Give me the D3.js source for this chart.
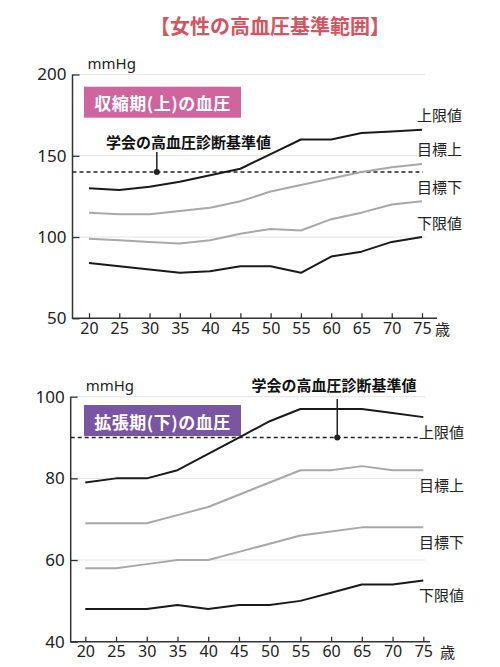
<!DOCTYPE html>
<html>
<head>
<meta charset="utf-8">
<script src="https://cdn.jsdelivr.net/npm/d3@7"></script>
<style>
  body { margin: 0; background: #fff; }
  text { font-family: "Noto Sans CJK JP", "Noto Sans", sans-serif; }
</style>
</head>
<body>
<svg id="chart" width="500" height="667"></svg>
<script>
// ages on the x axis
var ages = [20, 25, 30, 35, 40, 45, 50, 55, 60, 65, 70, 75];

// systolic (上)
var sysUpper  = [130, 129, 131, 134, 138, 142, 151, 160, 160, 164, 165, 166];
var sysTgtUp  = [115, 114, 114, 116, 118, 122, 128, 132, 136, 140, 143, 145];
var sysTgtLow = [99, 98, 97, 96, 98, 102, 105, 104, 111, 115, 120, 122];
var sysLower  = [84, 82, 80, 78, 79, 82, 82, 78, 88, 91, 97, 100];
var sysTicks  = [50, 100, 150, 200];
var sysLimit  = 140;

// diastolic (下)
var diaUpper  = [79, 80, 80, 82, 86, 90, 94, 97, 97, 97, 96, 95];
var diaTgtUp  = [69, 69, 69, 71, 73, 76, 79, 82, 82, 83, 82, 82];
var diaTgtLow = [58, 58, 59, 60, 60, 62, 64, 66, 67, 68, 68, 68];
var diaLower  = [48, 48, 48, 49, 48, 49, 49, 50, 52, 54, 54, 55];
var diaTicks  = [40, 60, 80, 100];
var diaLimit  = 90;

var seriesNames = ["上限値", "目標上", "目標下", "下限値"];
var seriesColors = ["#1a1a1a", "#a8a8a8", "#a8a8a8", "#1a1a1a"];

var svg = d3.select("#chart");

svg.append("text")
  .attr("x", 270).attr("y", 25)
  .attr("text-anchor", "middle")
  .attr("dominant-baseline", "central")
  .attr("font-size", 20).attr("font-weight", "bold")
  .attr("fill", "#d4545f")
  .text("【女性の高血圧基準範囲】");

function drawPanel(p) {
  var g = svg.append("g");
  var x = d3.scalePoint().domain(ages).range([p.x0, p.x1]);
  var y = d3.scaleLinear().domain([p.ticks[0], p.ticks[p.ticks.length - 1]]).range([p.yBottom, p.yTop]);

  // light grid
  g.selectAll(".grid").data(p.ticks.slice(1)).enter().append("line")
    .attr("x1", p.axisX).attr("x2", 425)
    .attr("y1", function(d){ return y(d); }).attr("y2", function(d){ return y(d); })
    .attr("stroke", "#e4e4e4").attr("stroke-width", 1);

  // y axis
  var ya = g.append("g").attr("transform", "translate(" + p.axisX + ",0)")
    .call(d3.axisLeft(y).tickValues(p.ticks).tickSize(-7).tickPadding(6));
  ya.select(".domain").remove();
  ya.selectAll(".tick line").attr("stroke", "#333").attr("stroke-width", 1.3);
  ya.selectAll("text").attr("font-size", 17).attr("fill", "#222")
    .style("font-family", "'Noto Sans', sans-serif");

  // x axis
  var xa = g.append("g").attr("transform", "translate(0," + p.yBottom + ")")
    .call(d3.axisBottom(x).tickSize(-5).tickPadding(4));
  xa.select(".domain").remove();
  xa.selectAll(".tick line").attr("stroke", "#333").attr("stroke-width", 1.3);
  xa.selectAll("text").attr("font-size", 16).attr("fill", "#222")
    .style("font-family", "'Noto Sans', sans-serif");

  // axis lines
  g.append("path")
    .attr("d", "M" + p.axisX + "," + y(p.ticks[p.ticks.length - 1]) + "V" + p.yBottom + "H" + p.axisEnd)
    .attr("fill", "none").attr("stroke", "#333").attr("stroke-width", 1.5);

  g.append("text").attr("x", p.ageX).attr("y", p.yBottom + 10)
    .attr("dominant-baseline", "central").attr("font-size", 15).attr("fill", "#222").text("歳");

  g.append("text").attr("x", p.axisX + 15).attr("y", y(p.ticks[p.ticks.length - 1]) - 12)
    .attr("dominant-baseline", "central").attr("font-size", 15).attr("fill", "#222")
    .style("font-family", "'Noto Sans', sans-serif").text("mmHg");

  // title box
  g.append("rect").attr("x", 84).attr("y", p.boxY).attr("width", 157).attr("height", 31)
    .attr("fill", p.boxColor);
  g.append("text").attr("x", 162.5).attr("y", p.boxY + 16)
    .attr("text-anchor", "middle").attr("dominant-baseline", "central")
    .attr("font-size", 17).attr("font-weight", "bold").attr("fill", "#fff")
    .attr("letter-spacing", 0.5)
    .text(p.boxText);

  // limit dashed line
  g.append("line").attr("x1", p.axisX).attr("x2", p.dashEnd)
    .attr("y1", y(p.limit)).attr("y2", y(p.limit))
    .attr("stroke", "#222").attr("stroke-width", 1.5).attr("stroke-dasharray", "4,3");

  // series
  var line = d3.line().x(function(d, i){ return x(ages[i]); }).y(function(d){ return y(d); });
  var order = [1, 2, 0, 3];
  order.forEach(function(k) {
    g.append("path").datum(p.series[k])
      .attr("d", line).attr("fill", "none")
      .attr("stroke", seriesColors[k]).attr("stroke-width", 2)
      .attr("stroke-linejoin", "round");
  });

  p.series.forEach(function(s, k) {
    g.append("text").attr("x", p.labelX).attr("y", y(s[s.length - 1]) + p.labelOffset)
      .attr("dominant-baseline", "central").attr("font-size", 15).attr("fill", "#222")
      .text(seriesNames[k]);
  });

  // annotation
  var ax = p.x0 + (p.annoAge - ages[0]) / (ages[ages.length - 1] - ages[0]) * (p.x1 - p.x0);
  g.append("line").attr("x1", ax).attr("x2", ax)
    .attr("y1", p.annoLineTop).attr("y2", y(p.limit))
    .attr("stroke", "#222").attr("stroke-width", 1.5);
  g.append("circle").attr("cx", ax).attr("cy", y(p.limit)).attr("r", 3).attr("fill", "#222");
  g.append("text").attr("x", p.annoTextX).attr("y", p.annoTextY)
    .attr("text-anchor", "middle").attr("dominant-baseline", "central")
    .attr("font-size", 15).attr("font-weight", "bold").attr("fill", "#111")
    .text("学会の高血圧診断基準値");
}

drawPanel({
  x0: 89, x1: 422, axisX: 72.5, axisEnd: 437, yTop: 74.5, yBottom: 318.3,
  ticks: sysTicks, limit: sysLimit, dashEnd: 423, ageX: 435,
  series: [sysUpper, sysTgtUp, sysTgtLow, sysLower],
  labelX: 417, labelOffset: -15,
  boxY: 86.7, boxColor: "#d0649f", boxText: "収縮期(上)の血圧",
  annoAge: 31.2, annoLineTop: 152, annoTextX: 188.5, annoTextY: 141.5
});

drawPanel({
  x0: 85.3, x1: 423.3, axisX: 70.7, axisEnd: 430, yTop: 396.7, yBottom: 641.7,
  ticks: diaTicks, limit: diaLimit, dashEnd: 418, ageX: 440,
  series: [diaUpper, diaTgtUp, diaTgtLow, diaLower],
  labelX: 419, labelOffset: 14.5,
  boxY: 405, boxColor: "#7a55a3", boxText: "拡張期(下)の血圧",
  annoAge: 61, annoLineTop: 399, annoTextX: 334, annoTextY: 384
});
</script>
</body>
</html>
